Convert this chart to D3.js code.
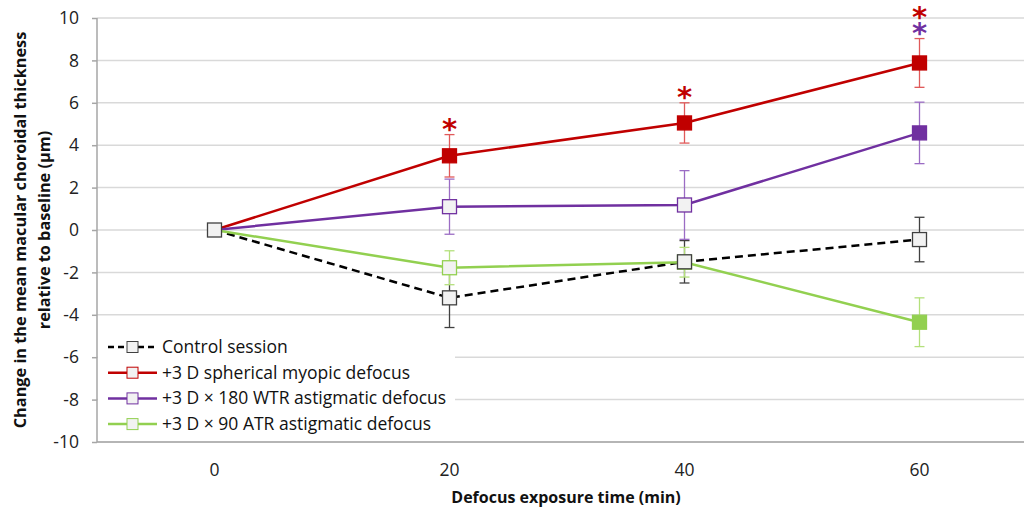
<!DOCTYPE html>
<html><head><meta charset="utf-8">
<script src="https://cdn.jsdelivr.net/npm/d3@7"></script>
<style>body{margin:0;background:#fff}svg{display:block}</style>
</head><body>
<svg id="c" width="1024" height="508"></svg>
<script>
const times = ["0","20","40","60"];
const yTicks = [-10,-8,-6,-4,-2,0,2,4,6,8,10];
const seriesNames = ["Control session","+3 D spherical myopic defocus","+3 D \u00d7 180 WTR astigmatic defocus","+3 D \u00d7 90 ATR astigmatic defocus"];
const seriesColors = ["#000000","#c00000","#7030a0","#92d050"];
const errColors = ["#404040","#e05a5a","#9b6cc4","#b4e07c"];
const controlVals = [0,-3.2,-1.5,-0.45];
const controlErr = [0,1.4,1.0,1.05];
const sphericalVals = [0,3.5,5.05,7.88];
const sphericalErr = [0,1.0,0.95,1.15];
const wtrVals = [0,1.1,1.18,4.58];
const wtrErr = [0,1.3,1.62,1.45];
const atrVals = [0,-1.78,-1.52,-4.35];
const atrErr = [0,0.8,0.7,1.15];
const filled = [[false,false,false,false],[false,true,true,true],[false,false,false,true],[false,false,false,true]];
// significance asterisks per time point: series indices, stacked top to bottom above the red error bar
const starTimes = ["20","40","60"];
const starSeries = [[1],[1],[1,2]];

const vals=[controlVals,sphericalVals,wtrVals,atrVals];
const errs=[controlErr,sphericalErr,wtrErr,atrErr];
const svg=d3.select("#c");
const L=97,R=1037,T=18,B=442;
const x=d3.scaleBand().domain(times).range([L,R]);
const y=d3.scaleLinear().domain([-10,10]).range([B,T]);
const cx=t=>x(t)+x.bandwidth()/2;
const font="'Open Sans', sans-serif";

svg.append("g").selectAll("line").data(yTicks).join("line")
 .attr("x1",L).attr("x2",R).attr("y1",d=>y(d)).attr("y2",d=>y(d))
 .attr("stroke","#d9d9d9").attr("stroke-width",1.5);

const ya=svg.append("g").attr("transform",`translate(${L},0)`).call(d3.axisLeft(y).tickValues(yTicks).tickFormat(d=>String(d)).tickSize(5).tickPadding(13));
ya.selectAll("path,line").attr("stroke","#a6a6a6").attr("stroke-width",1.5);
ya.select(".domain").attr("d",`M0,${T}V${B}`);
ya.selectAll("text").attr("font-family",font).attr("font-size",17.5).attr("fill","#222");
const xa=svg.append("g").attr("transform",`translate(0,${B})`).call(d3.axisBottom(x).tickSize(0).tickPadding(22));
xa.selectAll("path").attr("stroke","#a6a6a6").attr("stroke-width",1.5);
xa.select(".domain").attr("d",`M${L},0H${R}`);
xa.selectAll("text").attr("font-family",font).attr("font-size",17.5).attr("fill","#222");

svg.append("text").attr("x",449+117).attr("y",503).attr("text-anchor","middle")
 .attr("font-family",font).attr("font-weight","bold").attr("font-size",16).attr("fill","#111").text("Defocus exposure time (min)");
const yt=svg.append("text").attr("transform",`translate(26,${(T+B)/2}) rotate(-90)`).attr("text-anchor","middle")
 .attr("font-family",font).attr("font-weight","bold").attr("font-size",16.3).attr("fill","#111");
yt.append("tspan").attr("x",0).attr("dy",0).text("Change in the mean macular choroidal thickness");
yt.append("tspan").attr("x",0).attr("dy",24).text("relative to baseline (\u03bcm)");

const line=d3.line().x((d,i)=>cx(times[i])).y(d=>y(d));
vals.forEach((v,s)=>{
 svg.append("path").attr("d",line(v)).attr("fill","none").attr("stroke",seriesColors[s])
  .attr("stroke-width",2.5).attr("stroke-dasharray",s===0?"8,5":null);
});
vals.forEach((v,s)=>{
 const g=svg.append("g").attr("stroke",errColors[s]).attr("stroke-width",1.3);
 v.forEach((d,i)=>{
  if(i===0)return;
  const e=errs[s][i],X=cx(times[i]);
  g.append("line").attr("x1",X).attr("x2",X).attr("y1",y(d+e)).attr("y2",y(d-e));
  g.append("line").attr("x1",X-5).attr("x2",X+5).attr("y1",y(d+e)).attr("y2",y(d+e));
  g.append("line").attr("x1",X-5).attr("x2",X+5).attr("y1",y(d-e)).attr("y2",y(d-e));
 });
});
const ms=14;
[1,2,3,0].forEach(s=>{
 vals[s].forEach((d,i)=>{
  if(i===0&&s!==0)return;
  const f=filled[s][i];
  svg.append("rect").attr("x",cx(times[i])-ms/2).attr("y",y(d)-ms/2).attr("width",ms).attr("height",ms)
   .attr("fill",f?seriesColors[s]:"#f2f2f2").attr("stroke",(i===0||s===0)?"#404040":seriesColors[s]).attr("stroke-width",1.3);
 });
});
starTimes.forEach((t,k)=>{
 const i=times.indexOf(t);
 const top=sphericalVals[i]+sphericalErr[i];
 const list=starSeries[k];
 const X=cx(t);
 const txt=svg.append("text").attr("text-anchor","middle")
  .attr("font-family","'DejaVu Sans', sans-serif").attr("font-size",29).attr("font-weight","bold");
 list.forEach((s,j)=>{
  txt.append("tspan").attr("x",X)
   .attr("y",y(top)+4-(list.length-1-j)*15.5)
   .attr("fill",seriesColors[s]).text("*");
 });
});

svg.append("rect").attr("x",L+1).attr("y",336).attr("width",357).attr("height",105).attr("fill","#fff");
seriesNames.forEach((n,s)=>{
 const ly=347+s*25.7;
 const g=svg.append("g");
 g.append("line").attr("x1",108).attr("x2",157).attr("y1",ly).attr("y2",ly).attr("stroke",seriesColors[s])
  .attr("stroke-width",2.5).attr("stroke-dasharray",s===0?"6,4":null);
 g.append("rect").attr("x",127).attr("y",ly-5.5).attr("width",11).attr("height",11).attr("fill","#f2f2f2")
  .attr("stroke",s===0?"#404040":seriesColors[s]).attr("stroke-width",1);
 g.append("text").attr("x",162).attr("y",ly+6).attr("font-family",font).attr("font-size",17.5).attr("fill","#111").text(n);
});
</script>
</body></html>
